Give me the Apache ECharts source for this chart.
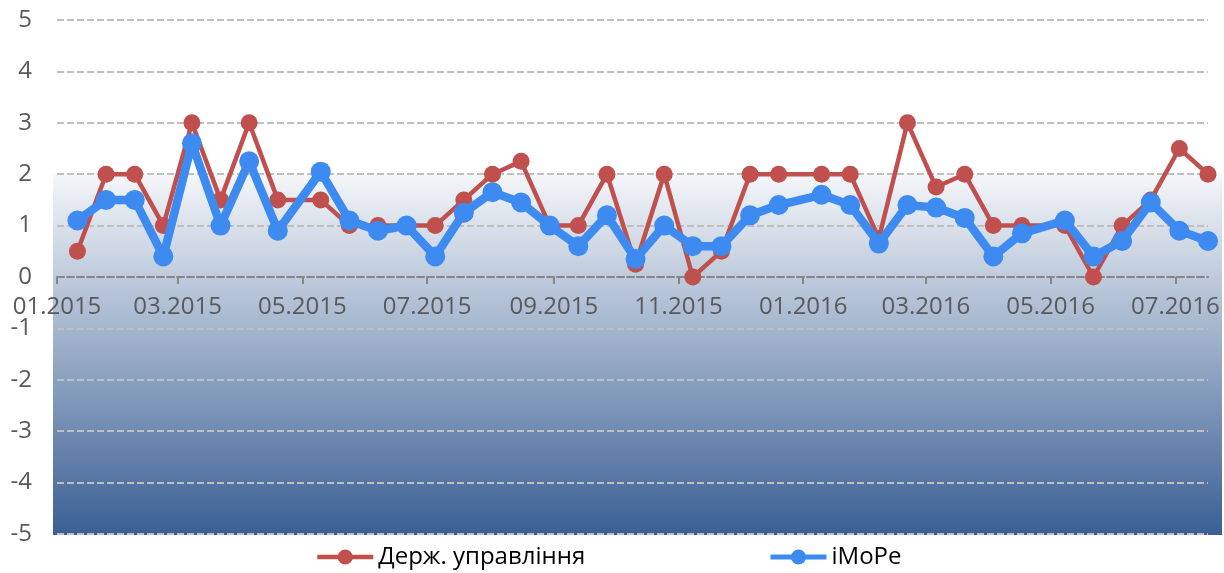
<!DOCTYPE html>
<html>
<head>
<meta charset="utf-8">
<script src="https://cdn.jsdelivr.net/npm/echarts@6/dist/echarts.min.js"></script>
<style>
  html, body { margin: 0; padding: 0; background: #fff; }
  #chart { width: 1224px; height: 573px; }
</style>
</head>
<body>
<div id="chart"></div>
<script>
// дати спостережень (кожні два тижні)
const dates = ['2015-01-11', '2015-01-25', '2015-02-08', '2015-02-22', '2015-03-08', '2015-03-22',
  '2015-04-05', '2015-04-19', '2015-05-10', '2015-05-24', '2015-06-07', '2015-06-21',
  '2015-07-05', '2015-07-19', '2015-08-02', '2015-08-16', '2015-08-30', '2015-09-13',
  '2015-09-27', '2015-10-11', '2015-10-25', '2015-11-08', '2015-11-22', '2015-12-06',
  '2015-12-20', '2016-01-10', '2016-01-24', '2016-02-07', '2016-02-21', '2016-03-06',
  '2016-03-20', '2016-04-03', '2016-04-17', '2016-05-08', '2016-05-22', '2016-06-05',
  '2016-06-19', '2016-07-03', '2016-07-17']
const derzh = [0.5, 2, 2, 1, 3, 1.5, 3, 1.5, 1.5, 1, 1, 1, 1, 1.5, 2, 2.25, 1, 1, 2, 0.25,
  2, 0, 0.5, 2, 2, 2, 2, 0.75, 3, 1.75, 2, 1, 1, 1, 0, 1, 1.5, 2.5, 2]
const imore = [1.1, 1.5, 1.5, 0.4, 2.6, 1, 2.25, 0.9, 2.05, 1.1, 0.9, 1, 0.4, 1.25, 1.65, 1.45,
  1, 0.6, 1.2, 0.35, 1, 0.6, 0.6, 1.2, 1.4, 1.6, 1.4, 0.65, 1.4, 1.35, 1.15, 0.4, 0.85, 1.1,
  0.4, 0.7, 1.45, 0.9, 0.7]
// підписи осі X
const monthTicks = ['2015-01', '2015-03', '2015-05', '2015-07', '2015-09', '2015-11',
  '2016-01', '2016-03', '2016-05', '2016-07']
const axisStart = '2015-01-01'
const axisEnd = '2016-07-17'
const yMin = -5
const yMax = 5

function toTime(s) {
  const p = s.split('-').map(Number)
  return new Date(p[0], p[1] - 1, p[2] || 1).getTime()
}
function pad(n) { return n < 10 ? '0' + n : '' + n }

const tickTimes = monthTicks.map(toTime)
const seriesA = dates.map((d, i) => [toTime(d), derzh[i]])
const seriesB = dates.map((d, i) => [toTime(d), imore[i]])

const W = 1224, H = 573
const gridTop = 20, gridBottom = 39
// вісь X стоїть на нулі, підписи під нею
const zeroOffset = -(H - gridTop - gridBottom) * (0 - yMin) / (yMax - yMin)

const font = '"Open Sans", "Noto Sans", sans-serif'
const chart = echarts.init(document.getElementById('chart'))

const legendText = { fontFamily: font, fontSize: 24, color: '#000' }

const option = {
  animation: false,
  backgroundColor: '#fff',
  graphic: [{
    type: 'rect',
    z: -10,
    silent: true,
    shape: { x: 53, y: 175, width: 1169, height: 360 },
    style: {
      fill: new echarts.graphic.LinearGradient(0, 0, 0, 1, [
        { offset: 0, color: '#f4f6f9' },
        { offset: 1, color: '#3a5f94' }
      ])
    }
  }],
  grid: {
    left: 57,
    right: 16,
    top: gridTop,
    bottom: gridBottom,
    containLabel: false
  },
  legend: [
    {
      left: 310,
      top: 540,
      itemWidth: 56,
      itemHeight: 19,
      lineStyle: { width: 4.5 },
      textStyle: legendText,
      data: ['Держ. управління']
    },
    {
      left: 763,
      top: 540,
      itemWidth: 56,
      itemHeight: 19,
      lineStyle: { width: 5 },
      textStyle: legendText,
      data: ['iMoPe']
    }
  ],
  xAxis: {
    type: 'value',
    min: toTime(axisStart),
    max: toTime(axisEnd),
    position: 'bottom',
    offset: zeroOffset,
    axisLine: {
      onZero: false,
      lineStyle: { color: '#868686', width: 2, type: [7, 3] }
    },
    axisTick: {
      show: true,
      customValues: tickTimes,
      length: 7,
      lineStyle: { color: '#868686', width: 2 }
    },
    axisLabel: {
      customValues: tickTimes,
      margin: 18,
      fontFamily: font,
      fontSize: 24,
      color: '#595959',
      formatter: function(v) {
        const d = new Date(v)
        return pad(d.getMonth() + 1) + '.' + d.getFullYear()
      }
    },
    splitLine: { show: false }
  },
  yAxis: {
    type: 'value',
    min: yMin,
    max: yMax,
    interval: 1,
    axisLine: { show: false },
    axisTick: { show: false },
    axisLabel: {
      margin: 25,
      fontFamily: font,
      fontSize: 24,
      color: '#595959'
    },
    splitLine: {
      lineStyle: { color: '#bfbfbf', width: 2, type: [7, 3] }
    }
  },
  series: [
    {
      name: 'Держ. управління',
      type: 'line',
      data: seriesA,
      symbol: 'circle',
      symbolSize: 17,
      showAllSymbol: true,
      lineStyle: { color: '#c0504d', width: 4.5 },
      itemStyle: { color: '#c0504d' },
      z: 3
    },
    {
      name: 'iMoPe',
      type: 'line',
      data: seriesB,
      symbol: 'circle',
      symbolSize: 20,
      showAllSymbol: true,
      lineStyle: { color: '#3d8af0', width: 8.5 },
      itemStyle: { color: '#3d8af0' },
      z: 4
    }
  ]
}
chart.setOption(option)
</script>
</body>
</html>
